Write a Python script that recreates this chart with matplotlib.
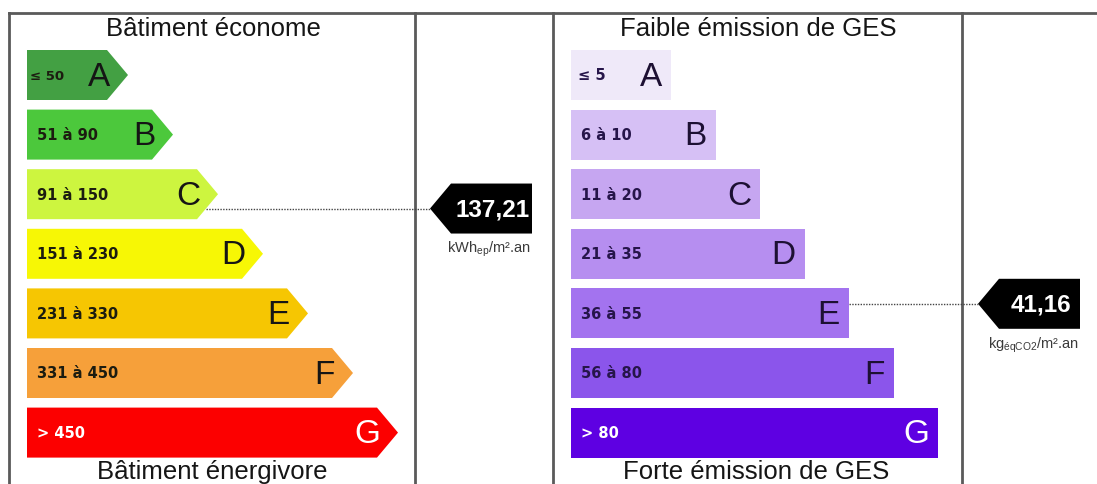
import matplotlib
matplotlib.use("Agg")
import matplotlib.pyplot as plt
from matplotlib.patches import Polygon, Rectangle

# energy label (DPE)
ENERGY_CLASSES = ["A", "B", "C", "D", "E", "F", "G"]
ENERGY_RANGES = ["≤ 50", "51 à 90", "91 à 150", "151 à 230", "231 à 330", "331 à 450", "> 450"]
ENERGY_BOUNDS = [0, 50, 90, 150, 230, 330, 450, 600]
ENERGY_COLORS = ["#43a043", "#4cc83c", "#cdf53f", "#f7f705", "#f6c602", "#f6a03a", "#fc0000"]
ENERGY_VALUE = 137.21
ENERGY_UNIT = r"kWh$_\mathregular{ep}$/m².an"

# greenhouse gas label (GES)
GES_CLASSES = ["A", "B", "C", "D", "E", "F", "G"]
GES_RANGES = ["≤ 5", "6 à 10", "11 à 20", "21 à 35", "36 à 55", "56 à 80", "> 80"]
GES_BOUNDS = [0, 5, 10, 20, 35, 55, 80, 120]
GES_COLORS = ["#efe9f9", "#d6c0f5", "#c6a6f1", "#b68ef0", "#a373ef", "#8b55eb", "#5e00e2"]
GES_VALUE = 41.16
GES_UNIT = r"kg$_\mathregular{éqCO2}$/m².an"

W, H = 1097, 484
ROW_TOP = 50
ROW_STEP = 59.6
ROW_H = 50
FRAME = "#5a5a5a"
SANS = "Liberation Sans"


def fmt(v):
    return f"{v:.2f}".replace(".", ",")


def marker_y(value, bounds):
    for i in range(len(bounds) - 1):
        if value <= bounds[i + 1]:
            frac = (value - bounds[i]) / (bounds[i + 1] - bounds[i])
            return i, ROW_TOP + i * ROW_STEP + frac * ROW_H
    i = len(bounds) - 2
    return i, ROW_TOP + i * ROW_STEP + ROW_H


def draw_tag(ax, tip_x, y, text):
    body_l, body_r, hh = tip_x + 21, tip_x + 102, 25
    ax.add_patch(Polygon([(tip_x, y), (body_l, y - hh), (body_r, y - hh),
                          (body_r, y + hh), (body_l, y + hh)],
                         closed=True, facecolor="black", edgecolor="none"))
    ax.text((body_l + body_r) / 2 + 1, y + 1, text, color="white", fontsize=17.5,
            fontweight="bold", family=SANS, ha="center", va="center")


def draw_energy(ax):
    x0, tip = 27, 21
    for i, (cls, rng, col) in enumerate(zip(ENERGY_CLASSES, ENERGY_RANGES, ENERGY_COLORS)):
        top = ROW_TOP + i * ROW_STEP
        mid = top + ROW_H / 2
        end = x0 + 80 + 45 * i
        ax.add_patch(Polygon([(x0, top), (end, top), (end + tip, mid),
                              (end, top + ROW_H), (x0, top + ROW_H)],
                             closed=True, facecolor=col, edgecolor="none"))
        light = cls == "G"
        ax.text(x0 + 10 if i else x0 + 3, mid + 1, rng, fontsize=10.5 if i else 9.5,
                fontweight="bold", family="DejaVu Sans", ha="left", va="center",
                color="white" if light else "#1c1c10")
        ax.text(end + 3, mid + 2, cls, fontsize=24, family=SANS, ha="right", va="center",
                color="white" if light else "#151515")

    idx, y = marker_y(ENERGY_VALUE, ENERGY_BOUNDS)
    end = x0 + 80 + 45 * idx
    mid = ROW_TOP + idx * ROW_STEP + ROW_H / 2
    start = end + tip * (1 - abs(y - mid) / (ROW_H / 2))
    ax.plot([start, 430], [y, y], color="#444444", lw=1, ls=(0, (1, 1)))
    draw_tag(ax, 430, y, fmt(ENERGY_VALUE))
    ax.text(489, y + 41, ENERGY_UNIT, fontsize=10.5, family=SANS, ha="center",
            va="center", color="#3a3a3a")


def draw_ges(ax):
    x0 = 571
    for i, (cls, rng, col) in enumerate(zip(GES_CLASSES, GES_RANGES, GES_COLORS)):
        top = ROW_TOP + i * ROW_STEP
        mid = top + ROW_H / 2
        end = x0 + 100 + 44.5 * i
        ax.add_patch(Rectangle((x0, top), end - x0, ROW_H, facecolor=col, edgecolor="none"))
        light = cls == "G"
        ax.text(x0 + 7 if i == 0 else x0 + 10, mid + 1, rng, fontsize=10.5,
                fontweight="bold", family="DejaVu Sans", ha="left", va="center",
                color="white" if light else "#26154a")
        ax.text(end - 9, mid + 2, cls, fontsize=24, family=SANS, ha="right", va="center",
                color="white" if light else "#1d1033")

    idx, y = marker_y(GES_VALUE, GES_BOUNDS)
    end = x0 + 100 + 44.5 * idx
    ax.plot([end, 978], [y, y], color="#444444", lw=1, ls=(0, (1, 1)))
    draw_tag(ax, 978, y, fmt(GES_VALUE))
    ax.text(1034, y + 41, GES_UNIT, fontsize=10.5, family=SANS, ha="center",
            va="center", color="#3a3a3a")


def main():
    fig = plt.figure(figsize=(W / 100, H / 100), dpi=100)
    ax = fig.add_axes([0, 0, 1, 1])
    ax.set_xlim(0, W)
    ax.set_ylim(H, 0)
    ax.axis("off")

    # frame
    ax.plot([9, W], [13, 13], color=FRAME, lw=2)
    for x in [9, 415, 553, 962]:
        ax.plot([x, x], [13, H], color=FRAME, lw=2)

    ax.text(213, 36, "Bâtiment économe", fontsize=18.5, family=SANS, ha="center",
            va="baseline", color="#151515")
    ax.text(212, 479, "Bâtiment énergivore", fontsize=18.5, family=SANS, ha="center",
            va="baseline", color="#151515")
    ax.text(758, 36, "Faible émission de GES", fontsize=18.5, family=SANS, ha="center",
            va="baseline", color="#151515")
    ax.text(756, 479, "Forte émission de GES", fontsize=18.5, family=SANS, ha="center",
            va="baseline", color="#151515")

    draw_energy(ax)
    draw_ges(ax)

    fig.savefig("out.png", dpi=100)


if __name__ == "__main__":
    main()
